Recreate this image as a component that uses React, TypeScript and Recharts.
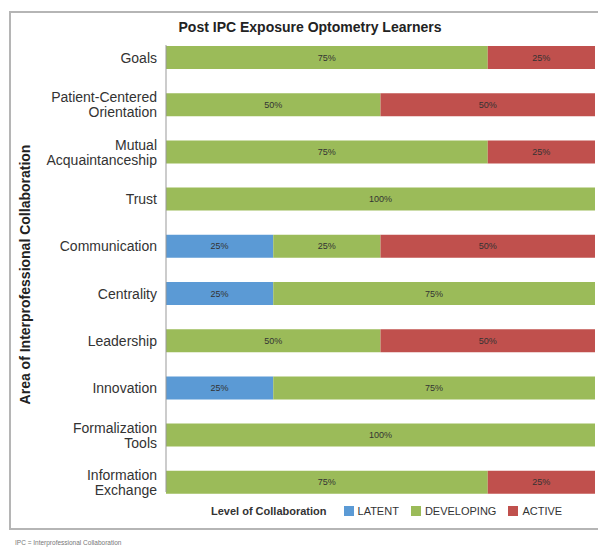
import { BarChart, Bar, XAxis, YAxis, Legend, LabelList } from 'recharts';

const categories = [
  'Goals',
  'Patient-Centered Orientation',
  'Mutual Acquaintanceship',
  'Trust',
  'Communication',
  'Centrality',
  'Leadership',
  'Innovation',
  'Formalization Tools',
  'Information Exchange',
];
const latent = [0, 0, 0, 0, 25, 25, 0, 25, 0, 0];
const developing = [75, 50, 75, 100, 25, 75, 50, 75, 100, 75];
const active = [25, 50, 25, 0, 50, 0, 50, 0, 0, 25];

const seriesNames = ['LATENT', 'DEVELOPING', 'ACTIVE'];
const COLORS = { latent: '#5b9ad5', developing: '#9bbb59', active: '#c0504d' };
const FONT = '"Liberation Sans", Arial, sans-serif';

const data = categories.map((name, i) => ({
  name,
  latent: latent[i],
  developing: developing[i],
  active: active[i],
}));

// categoria com duas palavras vai em duas linhas
const CategoryTick = ({ x, y, payload }: any) => {
  const words = String(payload.value).split(' ');
  const lines = words.length > 1 ? words : [payload.value];
  const start = -((lines.length - 1) * 15) / 2;
  return (
    <text x={x} y={y} textAnchor="end" fontSize={14} fill="#333" fontFamily={FONT}>
      {lines.map((l: string, i: number) => (
        <tspan key={i} x={x} dy={i === 0 ? start + 5 : 15}>
          {l}
        </tspan>
      ))}
    </text>
  );
};

const pct = (v: any) => (v ? `${v}%` : '');

const LegendBox = ({ payload }: any) => {
  // manter a ordem das séries (o recharts inverte no layout vertical)
  const items = [...(payload || [])].sort(
    (a: any, b: any) => seriesNames.indexOf(a.value) - seriesNames.indexOf(b.value)
  );
  return (
    <div style={{ display: 'flex', alignItems: 'center', fontFamily: FONT, fontSize: 11, color: '#333' }}>
      <span style={{ fontWeight: 'bold', marginRight: 17 }}>Level of Collaboration</span>
      {items.map((p: any, i: number) => (
        <span key={i} style={{ display: 'flex', alignItems: 'center', marginRight: 12 }}>
          <span style={{ width: 10, height: 10, background: p.color, display: 'inline-block', marginRight: 4 }} />
          {p.value}
        </span>
      ))}
    </div>
  );
};

export default function App() {
  return (
    <div style={{ position: 'absolute', left: 0, top: 0, width: 598, height: 547, background: '#fff', overflow: 'hidden' }}>
      <div
        style={{
          position: 'absolute',
          left: 9,
          top: 11,
          width: 620,
          height: 519,
          border: '2px solid #b5b5b5',
          boxSizing: 'border-box',
        }}
      />
      <div
        style={{
          position: 'absolute',
          top: 19,
          left: 0,
          width: 620,
          textAlign: 'center',
          fontFamily: FONT,
          fontWeight: 'bold',
          fontSize: 14,
          color: '#222',
        }}
      >
        Post IPC Exposure Optometry Learners
      </div>
      <div style={{ position: 'absolute', left: 0, top: 0 }}>
        <BarChart
          width={598}
          height={547}
          data={data}
          layout="vertical"
          margin={{ top: 45, right: 3, left: 0, bottom: 55 }}
          style={{ fontFamily: FONT }}
        >
          <XAxis type="number" domain={[0, 100]} hide />
          <YAxis
            type="category"
            dataKey="name"
            width={166}
            tickLine={false}
            tickSize={0}
            tickMargin={9}
            axisLine={{ stroke: '#999' }}
            tick={<CategoryTick />}
            interval={0}
            padding={{ top: -11, bottom: -14 }}
            label={{
              content: ({ viewBox }: any) => (
                <text
                  x={25}
                  y={viewBox.y + viewBox.height / 2 + 6}
                  transform={`rotate(-90, 25, ${viewBox.y + viewBox.height / 2 + 6})`}
                  textAnchor="middle"
                  dominantBaseline="central"
                  fontSize={14}
                  fontWeight="bold"
                  fill="#222"
                  fontFamily={FONT}
                >
                  Area of Interprofessional Collaboration
                </text>
              ),
            }}
          />
          <Legend
            layout="horizontal"
            verticalAlign="middle"
            align="center"
            content={<LegendBox />}
            wrapperStyle={{ position: 'absolute', top: 505, left: 211, width: 380 }}
          />
          <Bar dataKey="latent" name={seriesNames[0]} stackId="a" fill={COLORS.latent} barSize={23} isAnimationActive={false}>
            <LabelList dataKey="latent" position="center" formatter={pct} fontSize={9} fill="#333" />
          </Bar>
          <Bar dataKey="developing" name={seriesNames[1]} stackId="a" fill={COLORS.developing} barSize={23} isAnimationActive={false}>
            <LabelList dataKey="developing" position="center" formatter={pct} fontSize={9} fill="#333" />
          </Bar>
          <Bar dataKey="active" name={seriesNames[2]} stackId="a" fill={COLORS.active} barSize={23} isAnimationActive={false}>
            <LabelList dataKey="active" position="center" formatter={pct} fontSize={9} fill="#333" />
          </Bar>
        </BarChart>
      </div>
      <div
        style={{
          position: 'absolute',
          left: 15,
          top: 539,
          fontFamily: FONT,
          fontSize: 6.5,
          color: '#777',
        }}
      >
        IPC = Interprofessional Collaboration
      </div>
    </div>
  );
}
